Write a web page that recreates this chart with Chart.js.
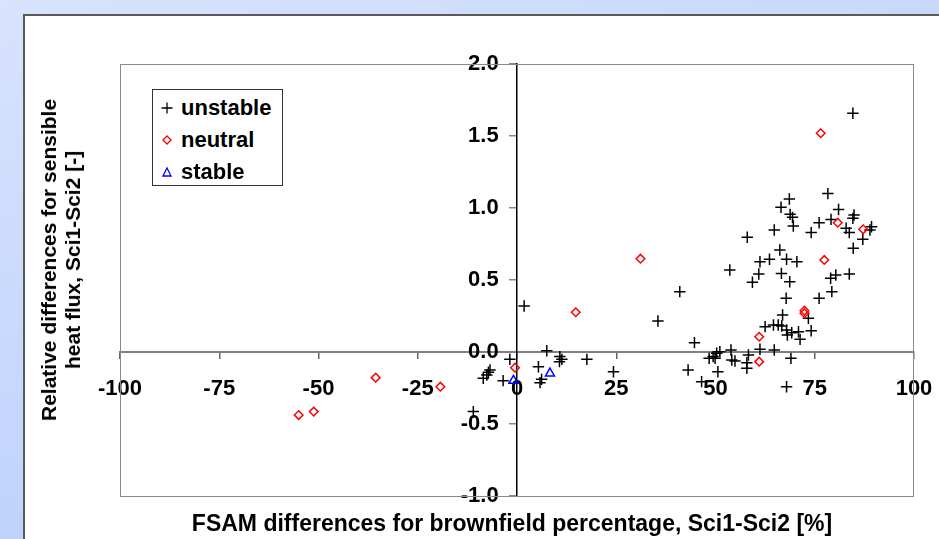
<!DOCTYPE html>
<html>
<head>
<meta charset="utf-8">
<script src="https://cdn.jsdelivr.net/npm/chart.js@4.4.1/dist/chart.umd.min.js"></script>
<style>
    html, body { margin: 0; padding: 0; }
    body {
        width: 939px; height: 539px; overflow: hidden; position: relative;
        background: linear-gradient(160deg, #d8e3fd 0%, #c2d5fc 55%, #a6c3f7 100%);
        font-family: "Liberation Sans", Arial, sans-serif;
    }
    #panel {
        position: absolute; left: 23px; top: 14px; right: 0; bottom: 0;
        background: #fff; border-left: 2px solid #5a5a5a; border-top: 2px solid #5a5a5a;
    }
    #chart { position: absolute; left: 0; top: 0; }
    .legend {
        position: absolute; left: 152px; top: 89px; width: 129px; height: 95px;
        border: 1px solid #333; background: #fff;
    }
    .legend .row {
        position: absolute; left: 0; height: 30px; line-height: 30px;
        font-size: 22px; font-weight: bold; color: #000; white-space: nowrap;
    }
    .legend svg { position: absolute; left: 8px; top: 9px; }
    .legend span { position: absolute; left: 28px; }
    .title-x {
        position: absolute; left: 512px; top: 523px; transform: translate(-50%, -50%);
        font-size: 23px; font-weight: bold; white-space: nowrap; color: #000;
    }
    .title-y {
        position: absolute; left: 61px; top: 260px; transform: translate(-50%, -50%) rotate(-90deg);
        font-size: 21px; font-weight: bold; line-height: 24px; text-align: center; white-space: nowrap; color: #000;
    }
</style>
</head>
<body>
<div id="panel"></div>
<canvas id="chart" width="939" height="539"></canvas>

<div class="legend">
    <div class="row" style="top:3px;">
        <svg width="12" height="12"><path d="M6 0.5V11.5M0.5 6H11.5" stroke="#000" stroke-width="1.3"/></svg>
        <span>unstable</span>
    </div>
    <div class="row" style="top:35px;">
        <svg width="12" height="12"><path d="M6 2L10 6L6 10L2 6Z" fill="none" stroke="#f00" stroke-width="1.3"/></svg>
        <span>neutral</span>
    </div>
    <div class="row" style="top:67px;">
        <svg width="12" height="12"><path d="M6 2L10 10H2Z" fill="none" stroke="#00f" stroke-width="1.3"/></svg>
        <span>stable</span>
    </div>
</div>

<div class="title-y">Relative differences for sensible<br>heat flux, Sci1-Sci2 [-]</div>
<div class="title-x">FSAM differences for brownfield percentage, Sci1-Sci2 [%]</div>

<script>
/* axis ticks */
var X_TICKS = [-100, -75, -50, -25, 0, 25, 50, 75, 100];
var Y_TICKS = [-1.0, -0.5, 0.0, 0.5, 1.0, 1.5, 2.0];

/* [brownfield diff %, relative flux diff] */
var UNSTABLE = [
    [84.6, 1.658], [78.3, 1.10], [68.6, 1.062], [66.5, 1.005], [81.0, 0.99], [68.8, 0.956],
    [69.4, 0.935], [84.9, 0.951], [84.6, 0.928], [79.1, 0.921], [76.1, 0.898], [69.6, 0.875],
    [64.8, 0.847], [74.1, 0.829], [82.9, 0.859], [83.7, 0.829], [89.3, 0.87], [88.9, 0.847],
    [87.1, 0.783], [58.0, 0.797], [66.2, 0.708], [84.7, 0.72], [61.2, 0.627], [63.6, 0.644],
    [67.9, 0.644], [70.5, 0.627],
    [53.6, 0.569], [60.9, 0.542], [59.3, 0.484], [66.6, 0.546], [68.7, 0.488], [80.3, 0.535],
    [79.0, 0.512], [83.7, 0.542], [41.0, 0.419], [79.3, 0.419], [67.8, 0.373], [76.1, 0.373],
    [66.9, 0.257], [73.4, 0.234], [35.5, 0.215],
    [62.5, 0.176], [64.6, 0.188], [65.8, 0.188], [66.7, 0.181], [67.9, 0.153], [69.2, 0.134],
    [70.9, 0.141], [74.1, 0.148], [68.1, 0.118], [71.3, 0.088], [44.7, 0.065], [61.2, 0.019],
    [64.8, 0.014], [53.9, 0.014], [51.1, 0.002], [50.3, -0.009], [49.4, -0.032], [49.9, -0.044],
    [48.4, -0.044], [58.3, -0.021], [54.1, -0.056], [54.9, -0.063], [57.9, -0.074], [57.9, -0.113],
    [69.0, -0.044], [43.1, -0.125], [50.6, -0.137], [46.5, -0.206], [67.9, -0.241], [24.3, -0.137],
    [1.8, 0.319], [7.5, 0.009], [10.8, -0.032], [11.3, -0.051], [10.7, -0.067], [17.6, -0.051],
    [-1.8, -0.051], [5.4, -0.102], [-6.8, -0.125], [-7.2, -0.14], [-7.6, -0.16], [-8.5, -0.183],
    [-3.5, -0.199], [6.2, -0.19], [5.8, -0.213], [-11.0, -0.414]
];
var NEUTRAL = [
    [-55.0, -0.438], [-51.2, -0.414], [-35.6, -0.178], [-19.3, -0.241], [-0.5, -0.109],
    [14.8, 0.276], [31.1, 0.648], [61.0, 0.106], [61.0, -0.067], [72.4, 0.287], [72.4, 0.269],
    [76.5, 1.519], [77.4, 0.639], [80.8, 0.898], [87.2, 0.852]
];
var STABLE = [
    [-0.9, -0.199], [8.3, -0.148]
];

function toXY(list) {
    return list.map(function(p) { return { x: p[0], y: p[1] }; });
}

var plotFrame = {
    id: 'plotFrame',
    beforeDatasetsDraw: function(chart) {
        var a = chart.chartArea, ctx = chart.ctx;
        ctx.save();
        ctx.strokeStyle = '#8a8a8a';
        ctx.lineWidth = 1;
        ctx.strokeRect(a.left + 0.5, a.top + 0.5, a.right - a.left - 1, a.bottom - a.top);
        ctx.restore();
    }
};

// axes sit inside the plot, so they must not claim any layout room
function noRoom(s) {
    s.width = s.isHorizontal() ? s.width : 0;
    s.height = s.isHorizontal() ? 0 : s.height;
    s.paddingLeft = s.paddingRight = s.paddingTop = s.paddingBottom = 0;
}

var tickFont = { family: '"Liberation Sans", Arial, sans-serif', size: 22, weight: 'bold' };

new Chart(document.getElementById('chart'), {
    type: 'scatter',
    data: {
        datasets: [
            {
                label: 'unstable', data: toXY(UNSTABLE), order: 3,
                pointStyle: 'cross', pointRadius: 5.7, pointBorderWidth: 1.5,
                borderColor: '#000', backgroundColor: '#000'
            },
            {
                label: 'neutral', data: toXY(NEUTRAL), order: 2,
                pointStyle: 'rectRot', pointRadius: 4.3, pointBorderWidth: 1.5,
                borderColor: '#ff0000', backgroundColor: 'rgba(0,0,0,0)'
            },
            {
                label: 'stable', data: toXY(STABLE), order: 1,
                pointStyle: 'triangle', pointRadius: 5.2, pointBorderWidth: 1.5,
                borderColor: '#0000ff', backgroundColor: 'rgba(0,0,0,0)'
            }
        ]
    },
    options: {
        responsive: false,
        animation: false,
        layout: { padding: { left: 120, top: 64, right: 25, bottom: 43 } },
        plugins: { legend: { display: false }, tooltip: { enabled: false } },
        scales: {
            x: {
                type: 'linear', min: -100, max: 100, position: { y: 0 },
                afterBuildTicks: function(s) { s.ticks = X_TICKS.map(function(v) { return { value: v }; }); },
                afterFit: noRoom,
                ticks: { color: '#000', font: tickFont, padding: 18, maxRotation: 0,
                         callback: function(v) { return String(v); } },
                grid: { drawOnChartArea: false, drawTicks: true, tickLength: 6, color: '#666', lineWidth: 1.5 },
                border: { color: '#808080', width: 2 }
            },
            y: {
                type: 'linear', min: -1, max: 2, position: { x: 0 },
                afterBuildTicks: function(s) { s.ticks = Y_TICKS.map(function(v) { return { value: v }; }); },
                afterFit: noRoom,
                ticks: { color: '#000', font: tickFont,
                         callback: function(v) { return v.toFixed(1) + '   '; } },
                grid: { drawOnChartArea: false, drawTicks: true, tickLength: 7, color: '#888', lineWidth: 1.5 },
                border: { color: '#000', width: 1.5 }
            }
        }
    },
    plugins: [plotFrame]
});
</script>
</body>
</html>
